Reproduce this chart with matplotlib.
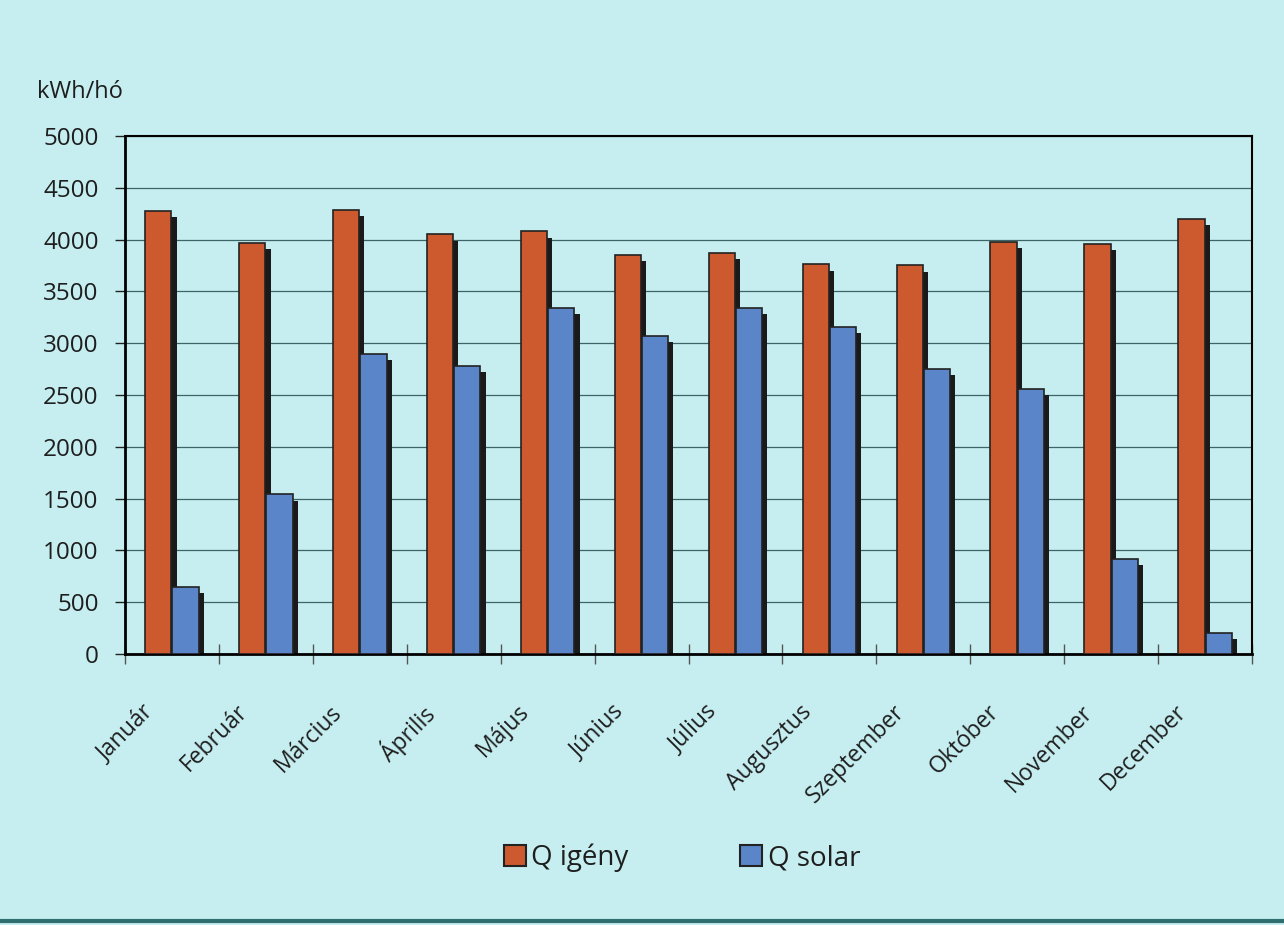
import numpy as np
import matplotlib
matplotlib.use("Agg")
import matplotlib.pyplot as plt
from matplotlib.patches import Patch

honapok = ["Január", "Február", "Március", "Április", "Május", "Június",
           "Július", "Augusztus", "Szeptember", "Október", "November", "December"]
q_igeny = [4280, 3970, 4290, 4050, 4080, 3850, 3870, 3760, 3750, 3980, 3960, 4200]
q_solar = [650, 1540, 2900, 2780, 3340, 3070, 3340, 3160, 2750, 2560, 920, 200]

hatter = "#c6eef0"
narancs = "#cc5a2e"
kek = "#5a85c8"

plt.rcParams['font.family'] = ['Open Sans', 'DejaVu Sans']
plt.rcParams['text.color'] = "#1e1e1e"
plt.rcParams['ytick.labelcolor'] = "#1e1e1e"

fig = plt.figure(figsize=(12.84, 9.25), dpi=100, facecolor=hatter)
ax = fig.add_axes([125/1284, 1 - 654/925, (1252-125)/1284, (654-136)/925])
ax.set_facecolor(hatter)

x = np.arange(len(honapok))
w = 0.28
off = 0.145
sx = 0.055   # arnyek eltolas
sy = 60

for i in x:
    ax.bar(i - off + sx, q_igeny[i] - sy, w, color="#1a1a1a", zorder=2)
    ax.bar(i + off + sx, max(q_solar[i] - sy, 0), w, color="#1a1a1a", zorder=2)
ax.bar(x - off, q_igeny, w, color=narancs, edgecolor="#222222", linewidth=1.2, zorder=3)
ax.bar(x + off, q_solar, w, color=kek, edgecolor="#222222", linewidth=1.2, zorder=3)

ax.set_xlim(-0.5, 11.5)
ax.set_ylim(0, 5000)
ax.set_yticks(range(0, 5001, 500))
ax.yaxis.grid(True, color="#3d6466", linewidth=0.9, zorder=1)
ax.set_axisbelow(True)
ax.tick_params(axis="y", labelsize=17.5, length=7, width=1, color="#222222", pad=12)

ax.set_xticks(np.arange(-0.5, 12, 1))
ax.set_xticklabels([])
ax.tick_params(axis="x", direction="inout", length=14, width=1, color="#555555")
trans = ax.get_xaxis_transform()
for i, h in enumerate(honapok):
    ax.text(i - 0.14, -0.089, h, rotation=45, ha="right", va="top",
            fontsize=16.5, transform=trans)

for s in ["left", "bottom"]:
    ax.spines[s].set_linewidth(2)
for s in ["top", "right"]:
    ax.spines[s].set_linewidth(1.5)

fig.text(37/1284, 1 - 92/925, "kWh/hó", fontsize=17, va="center")

jelek = [Patch(facecolor=narancs, edgecolor="#222222", linewidth=1.5, label="Q igény"),
         Patch(facecolor=kek, edgecolor="#222222", linewidth=1.5, label="Q solar")]
fig.legend(handles=jelek, loc="center", bbox_to_anchor=(0.531, 1 - 858/925), ncol=2,
           frameon=False, fontsize=20, handlelength=0.8, handleheight=0.8,
           handletextpad=0.2, columnspacing=4.0)

fig.add_artist(plt.Line2D([0, 1], [0.004, 0.004], color="#2f6f70", linewidth=3))

fig.savefig("out.png", dpi=100, facecolor=hatter)
